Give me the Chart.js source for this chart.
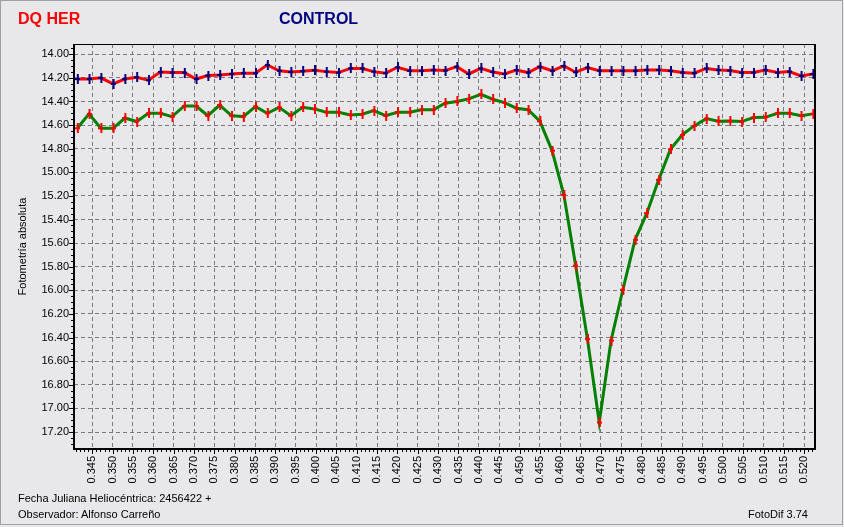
<!DOCTYPE html>
<html>
<head>
<meta charset="utf-8">
<script src="https://cdn.jsdelivr.net/npm/chart.js@4/dist/chart.umd.min.js"></script>
<style>
  html, body { margin: 0; padding: 0; background: #e8e8ea; }
  #wrap { position: relative; width: 844px; height: 527px; overflow: hidden; background: #e8e8ea; }
  #frame { position: absolute; left: 0; top: 0; width: 843px; height: 525px; box-sizing: border-box; border: 1px solid #a0a0a0; pointer-events: none; }
  canvas { position: absolute; left: 0; top: 0; }
  .lbl { position: absolute; white-space: nowrap; font-family: "Liberation Sans", Arial, sans-serif; }
  .ttl { font-size: 16px; font-weight: bold; top: 10px; }
  .foot { font-size: 11px; color: #000; }
</style>
</head>
<body>
<div id="wrap">
  <canvas id="c" width="844" height="527"></canvas>
  <div id="frame"></div>
  <div class="lbl ttl" style="left:18px;color:#ff0000;">DQ HER</div>
  <div class="lbl ttl" style="left:279px;color:#000080;">CONTROL</div>
  <div class="lbl foot" style="left:18px;top:492px;">Fecha Juliana Heliocéntrica: 2456422 +</div>
  <div class="lbl foot" style="left:18px;top:508px;">Observador: Alfonso Carreño</div>
  <div class="lbl foot" style="left:748px;top:508px;">FotoDif 3.74</div>
</div>
<script>
// ---- data ----
const hjd = [0.3413, 0.3442, 0.3471, 0.3501, 0.3530, 0.3559, 0.3588, 0.3617, 0.3646, 0.3676,
             0.3705, 0.3734, 0.3763, 0.3792, 0.3821, 0.3851, 0.3880, 0.3909, 0.3938, 0.3967,
             0.3996, 0.4025, 0.4055, 0.4084, 0.4113, 0.4142, 0.4171, 0.4200, 0.4230, 0.4259,
             0.4288, 0.4317, 0.4346, 0.4375, 0.4405, 0.4434, 0.4463, 0.4492, 0.4521, 0.4550,
             0.4580, 0.4609, 0.4638, 0.4667, 0.4696, 0.4725, 0.4754, 0.4784, 0.4813, 0.4842,
             0.4871, 0.4900, 0.4929, 0.4959, 0.4988, 0.5017, 0.5046, 0.5075, 0.5104, 0.5134,
             0.5163, 0.5192, 0.5221];
const controlMag = [14.21, 14.21, 14.20, 14.25, 14.21, 14.195, 14.22, 14.15, 14.155, 14.155,
                    14.21, 14.18, 14.175, 14.167, 14.16, 14.16, 14.09, 14.14, 14.15, 14.143,
                    14.135, 14.147, 14.155, 14.12, 14.12, 14.147, 14.16, 14.11, 14.14, 14.14,
                    14.133, 14.138, 14.105, 14.167, 14.12, 14.15, 14.167, 14.133, 14.155, 14.105,
                    14.14, 14.099, 14.152, 14.113, 14.139, 14.14, 14.14, 14.14, 14.133, 14.133,
                    14.14, 14.155, 14.16, 14.12, 14.133, 14.138, 14.155, 14.155, 14.133, 14.155,
                    14.147, 14.184, 14.167];
const dqHerMag = [14.627, 14.505, 14.627, 14.627, 14.54, 14.57, 14.50, 14.50, 14.528, 14.438,
                  14.438, 14.52, 14.43, 14.52, 14.528, 14.443, 14.50, 14.45, 14.52, 14.449,
                  14.463, 14.491, 14.491, 14.514, 14.508, 14.477, 14.52, 14.491, 14.491, 14.47,
                  14.47, 14.415, 14.40, 14.378, 14.339, 14.381, 14.41, 14.457, 14.47, 14.567,
                  14.816, 15.191, 15.79, 16.413, 17.119, 16.425, 15.995, 15.572, 15.346, 15.064,
                  14.805, 14.683, 14.607, 14.545, 14.567, 14.565, 14.57, 14.536, 14.534, 14.50,
                  14.50, 14.52, 14.505];
const xTicks = [0.345, 0.350, 0.355, 0.360, 0.365, 0.370, 0.375, 0.380, 0.385, 0.390,
                0.395, 0.400, 0.405, 0.410, 0.415, 0.420, 0.425, 0.430, 0.435, 0.440,
                0.445, 0.450, 0.455, 0.460, 0.465, 0.470, 0.475, 0.480, 0.485, 0.490,
                0.495, 0.500, 0.505, 0.510, 0.515, 0.520];
const yTicks = [14.00, 14.20, 14.40, 14.60, 14.80, 15.00, 15.20, 15.40, 15.60, 15.80,
                16.00, 16.20, 16.40, 16.60, 16.80, 17.00, 17.20];

// ---- markers ----
function makeMarker(color) {
  const c = document.createElement('canvas');
  c.width = 5; c.height = 10;
  const g = c.getContext('2d');
  g.fillStyle = color;
  g.fillRect(2, 0, 2, 10);
  g.fillRect(0, 4, 5, 2);
  return c;
}
const navyMark = makeMarker('#000080');
const redMark = makeMarker('#ff0000');

const framePlugin = {
  id: 'frameTicks',
  afterDraw(chart) {
    const ctx = chart.ctx;
    const a = chart.chartArea;
    const xs = chart.scales.x, ys = chart.scales.y;
    ctx.save();
    ctx.strokeStyle = '#000';
    ctx.lineWidth = 1;
    for (let k = 341; k <= 522; k++) {
      const px = Math.round(xs.getPixelForValue(k / 1000)) + 0.5;
      if (px < a.left || px > a.right) continue;
      const len = (k % 5 === 0) ? 5 : 3;
      ctx.beginPath();
      ctx.moveTo(px, a.bottom);
      ctx.lineTo(px, a.bottom + len);
      ctx.stroke();
    }
    for (let k = 1395; k <= 1730; k += 5) {
      const py = Math.round(ys.getPixelForValue(k / 100)) + 0.5;
      if (py < a.top || py > a.bottom) continue;
      const len = (k % 20 === 0) ? 5 : 3;
      ctx.beginPath();
      ctx.moveTo(a.left, py);
      ctx.lineTo(a.left - len, py);
      ctx.stroke();
    }
    ctx.fillStyle = '#000';
    ctx.fillRect(a.left - 1, a.top, 2, a.bottom - a.top + 1);
    ctx.fillRect(a.left - 1, a.bottom - 1, a.right - a.left + 2, 2);
    ctx.fillRect(a.right - 1, a.top, 2, a.bottom - a.top + 1);
    ctx.fillRect(a.left - 1, a.top, a.right - a.left + 2, 1);
    ctx.restore();
  }
};

const FONT = '"Liberation Sans", Arial, sans-serif';

new Chart(document.getElementById('c'), {
  type: 'line',
  data: {
    datasets: [
      {
        label: 'CONTROL',
        data: hjd.map((x, i) => ({ x: x, y: controlMag[i] })),
        borderColor: '#ff0000',
        borderWidth: 3,
        pointStyle: navyMark,
        pointRadius: 4,
        tension: 0,
        fill: false
      },
      {
        label: 'DQ HER',
        data: hjd.map((x, i) => ({ x: x, y: dqHerMag[i] })),
        borderColor: '#008000',
        borderWidth: 3,
        pointStyle: redMark,
        pointRadius: 4,
        tension: 0,
        fill: false
      }
    ]
  },
  options: {
    responsive: false,
    devicePixelRatio: 1,
    animation: false,
    events: [],
    layout: { padding: { left: 0, top: 44, right: 29, bottom: 0 } },
    plugins: { legend: { display: false }, tooltip: { enabled: false } },
    scales: {
      x: {
        type: 'linear',
        min: 0.3405,
        max: 0.52263,
        afterBuildTicks: (s) => { s.ticks = xTicks.map(v => ({ value: v })); },
        afterFit: (s) => { s.height = 78; },
        border: { display: false, dash: [4, 3] },
        grid: { color: '#7a7a7a', lineWidth: 1, drawTicks: false },
        ticks: {
          autoSkip: false,
          minRotation: 90,
          maxRotation: 90,
          padding: 7,
          color: '#000',
          font: { family: FONT, size: 11 },
          callback: (v) => Number(v).toFixed(3)
        }
      },
      y: {
        type: 'linear',
        reverse: true,
        min: 13.913,
        max: 17.344,
        afterBuildTicks: (s) => { s.ticks = yTicks.map(v => ({ value: v })); },
        afterFit: (s) => { s.width = 74; },
        border: { display: false, dash: [4, 3] },
        grid: { color: '#7a7a7a', lineWidth: 1, drawTicks: false },
        ticks: {
          padding: 5,
          color: '#000',
          font: { family: FONT, size: 11 },
          callback: (v) => Number(v).toFixed(2)
        },
        title: {
          display: true,
          text: 'Fotometría absoluta',
          color: '#000',
          font: { family: FONT, size: 11 },
          padding: { top: 16, bottom: 0 }
        }
      }
    }
  },
  plugins: [framePlugin]
});
</script>
</body>
</html>
